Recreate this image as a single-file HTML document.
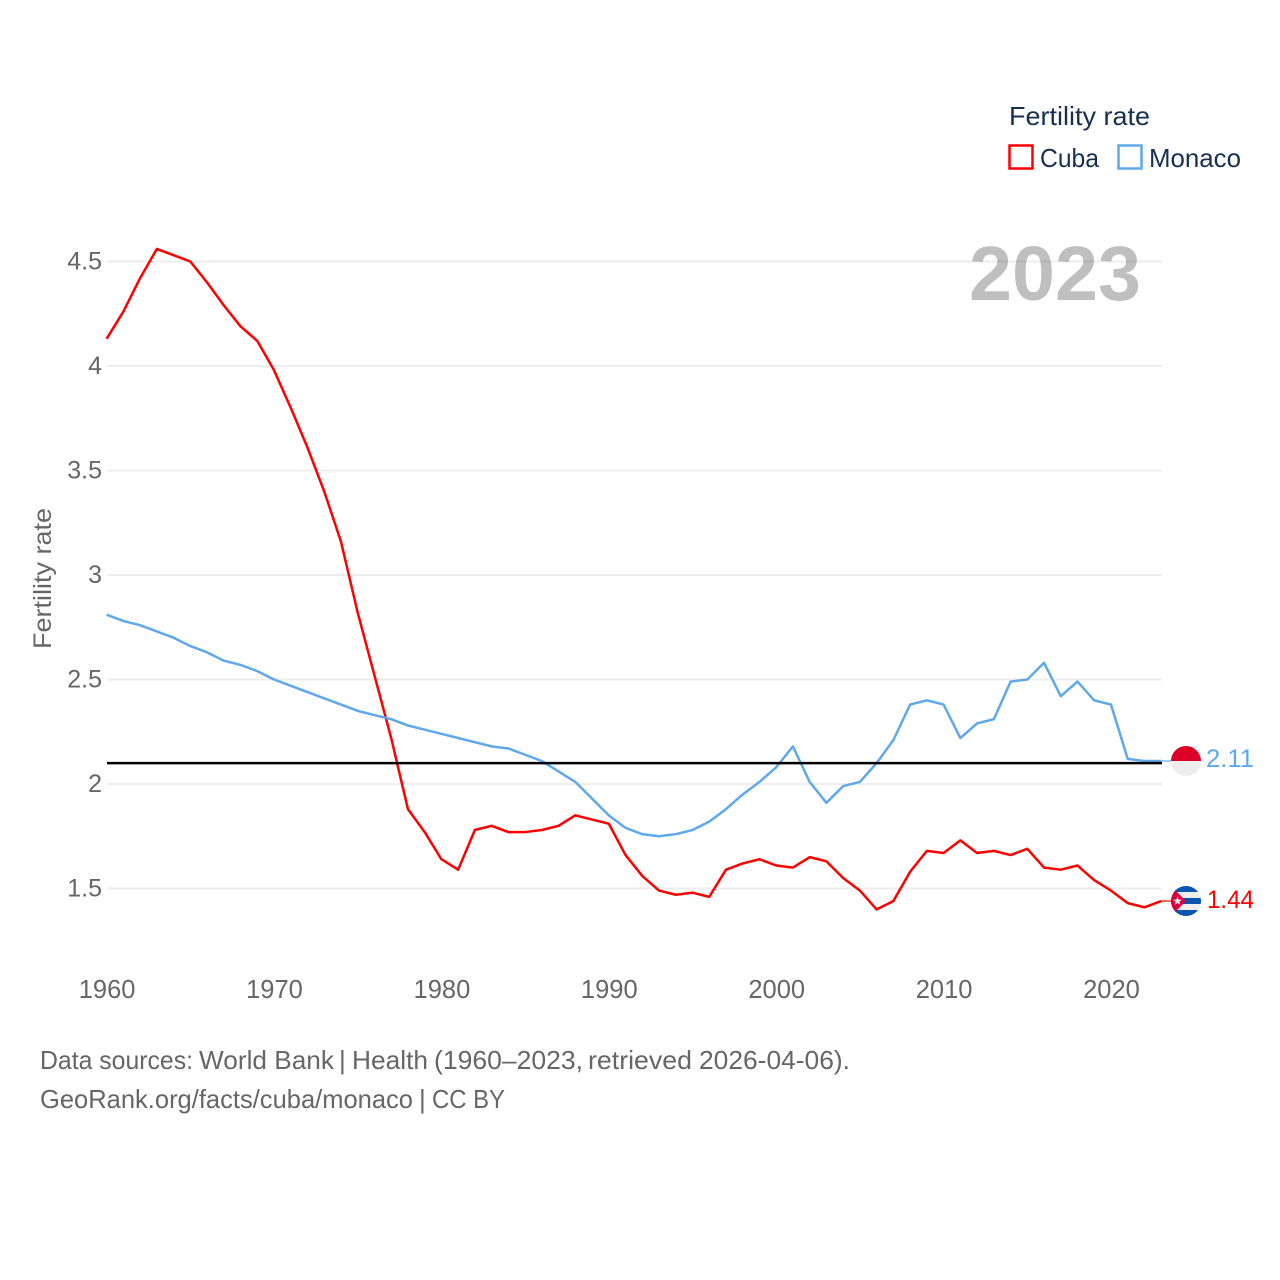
<!DOCTYPE html>
<html lang="en">
<head>
<meta charset="utf-8">
<title>Fertility rate: Cuba and Monaco</title>
<style>
html,body{margin:0;padding:0;background:#fff;width:1280px;height:1280px;overflow:hidden}
svg{display:block}
text{font-family:"Liberation Sans",sans-serif}
</style>
</head>
<body>
<svg id="chart" xmlns="http://www.w3.org/2000/svg" width="1280" height="1280" viewBox="0 0 1280 1280">
  <defs>
    <clipPath id="flag-clip-monaco"><circle cx="1186" cy="761" r="15"/></clipPath>
    <clipPath id="flag-clip-cuba"><circle cx="1186" cy="901" r="15"/></clipPath>
  </defs>
  <rect x="0" y="0" width="1280" height="1280" fill="#fff"/>
  <g id="grid"></g>
  <g id="yticks"></g>
  <g id="xticks"></g>
  <text transform="translate(51,649) rotate(-90)" font-size="25" fill="#666" textLength="141" lengthAdjust="spacingAndGlyphs">Fertility rate</text>
  <text x="969" y="300" font-size="77" font-weight="700" fill="#000" fill-opacity="0.25" textLength="172" lengthAdjust="spacingAndGlyphs">2023</text>
  <g id="series"></g>
  <g>
    <text x="1009" y="125" font-size="26" fill="#17304f" textLength="141" lengthAdjust="spacingAndGlyphs">Fertility rate</text>
    <rect x="1009.5" y="145.5" width="23" height="23" fill="#fff" stroke="#ff0000" stroke-width="2.5"/>
    <text x="1040" y="167" font-size="26" fill="#17304f" textLength="59" lengthAdjust="spacingAndGlyphs">Cuba</text>
    <rect x="1118.5" y="145.5" width="23" height="23" fill="#fff" stroke="#5fa8ec" stroke-width="2.5"/>
    <text x="1149" y="167" font-size="26" fill="#17304f" textLength="92" lengthAdjust="spacingAndGlyphs">Monaco</text>
  </g>
  <g clip-path="url(#flag-clip-monaco)">
    <rect x="1171" y="746" width="30" height="15" fill="#dc0027"/>
    <rect x="1171" y="761" width="30" height="15" fill="#eeeeee"/>
  </g>
  <g clip-path="url(#flag-clip-cuba)">
    <rect x="1171" y="886" width="30" height="30" fill="#eeeeee"/>
    <rect x="1171" y="886" width="30" height="6" fill="#0a55b0"/>
    <rect x="1171" y="898" width="30" height="6" fill="#0a55b0"/>
    <rect x="1171" y="910" width="30" height="6" fill="#0a55b0"/>
    <polygon points="1171,886 1186,901 1171,916" fill="#d8003a"/>
    <polygon points="1177.5,896.5 1178.6,899.6 1181.9,899.7 1179.3,901.7 1180.2,904.8 1177.5,903 1174.8,904.8 1175.7,901.7 1173.1,899.7 1176.4,899.6" fill="#eeeeee"/>
  </g>
  <g font-size="26" fill="#666">
    <text x="40" y="1069" textLength="153" lengthAdjust="spacingAndGlyphs">Data sources:</text>
    <text x="199" y="1069" textLength="135" lengthAdjust="spacingAndGlyphs">World Bank</text>
    <text x="339" y="1069">|</text>
    <text x="352" y="1069" textLength="76" lengthAdjust="spacingAndGlyphs">Health</text>
    <text x="434" y="1069" textLength="149" lengthAdjust="spacingAndGlyphs">(1960–2023,</text>
    <text x="588" y="1069" textLength="104" lengthAdjust="spacingAndGlyphs">retrieved</text>
    <text x="699" y="1069" textLength="151" lengthAdjust="spacingAndGlyphs">2026-04-06).</text>
  </g>
  <g font-size="26" fill="#666">
    <text x="40" y="1108" textLength="373" lengthAdjust="spacingAndGlyphs">GeoRank.org/facts/cuba/monaco</text>
    <text x="419" y="1108">|</text>
    <text x="432" y="1108" textLength="73" lengthAdjust="spacingAndGlyphs">CC BY</text>
  </g>
</svg>
<script>
const startYear = 1960;
const cubaValues = [4.13,4.26,4.42,4.56,4.53,4.50,4.40,4.29,4.19,4.12,3.98,3.80,3.61,3.40,3.16,2.82,2.52,2.22,1.88,1.77,1.64,1.59,1.78,1.80,1.77,1.77,1.78,1.80,1.85,1.83,1.81,1.66,1.56,1.49,1.47,1.48,1.46,1.59,1.62,1.64,1.61,1.60,1.65,1.63,1.55,1.49,1.40,1.44,1.58,1.68,1.67,1.73,1.67,1.68,1.66,1.69,1.60,1.59,1.61,1.54,1.49,1.43,1.41,1.44];
const monacoValues = [2.81,2.78,2.76,2.73,2.70,2.66,2.63,2.59,2.57,2.54,2.50,2.47,2.44,2.41,2.38,2.35,2.33,2.31,2.28,2.26,2.24,2.22,2.20,2.18,2.17,2.14,2.11,2.06,2.01,1.93,1.85,1.79,1.76,1.75,1.76,1.78,1.82,1.88,1.95,2.01,2.08,2.18,2.01,1.91,1.99,2.01,2.10,2.21,2.38,2.40,2.38,2.22,2.29,2.31,2.49,2.50,2.58,2.42,2.49,2.40,2.38,2.12,2.11,2.11];
const yTickValues = [1.5,2,2.5,3,3.5,4,4.5];
const yTickLabels = ["1.5","2","2.5","3","3.5","4","4.5"];
const xTickYears = [1960,1970,1980,1990,2000,2010,2020];
const replacementRate = 2.1;
const cubaEndLabel = "1.44";
const monacoEndLabel = "2.11";

const NS = 'http://www.w3.org/2000/svg';
const x = year => 106.6 + (year - 1960) * 16.74;
const y = value => 784 - (value - 2) * 209;
const svg = document.getElementById('chart');
const grid = document.getElementById('grid');
const yticks = document.getElementById('yticks');
const xticks = document.getElementById('xticks');
const series = document.getElementById('series');

function make(tag, attrs, parent) {
  const el = document.createElementNS(NS, tag);
  for (const k in attrs) el.setAttribute(k, attrs[k]);
  parent.appendChild(el);
  return el;
}

yTickValues.forEach((v, i) => {
  const line = make('line', {x1: 107, x2: 1162, y1: y(v), y2: y(v), stroke: '#eeeeee', 'stroke-width': 2}, grid);
  
  
  const t = make('text', {x: 102, y: y(v) + 8, 'text-anchor': 'end', 'font-size': 25, fill: '#666'}, yticks);
  t.textContent = yTickLabels[i];
  
  
});

xTickYears.forEach(year => {
  const t = make('text', {x: x(year) + 0.5, y: 998, 'text-anchor': 'middle', 'font-size': 25.5, fill: '#666'}, xticks);
  t.textContent = String(year);
  
  
});

const pathFor = values => values.map((v, i) => (i ? 'L' : 'M') + x(startYear + i).toFixed(2) + ' ' + y(v).toFixed(2)).join(' ');

const cubaLine = make('path', {d: pathFor(cubaValues), fill: 'none', stroke: '#ff0000', 'stroke-width': 2.5, 'stroke-linejoin': 'round'}, series);



const monacoLine = make('path', {d: pathFor(monacoValues), fill: 'none', stroke: '#5fa8ec', 'stroke-width': 2.5, 'stroke-linejoin': 'round'}, series);



const refLine = make('line', {x1: 107, x2: 1162, y1: y(replacementRate), y2: y(replacementRate), stroke: '#000', 'stroke-width': 2.5}, series);



const lastYear = startYear + cubaValues.length - 1;
const lastCuba = cubaValues[cubaValues.length - 1];
const lastMonaco = monacoValues[monacoValues.length - 1];

const cubaLeader = make('line', {x1: x(lastYear), x2: 1172, y1: y(lastCuba), y2: y(lastCuba), stroke: '#ff0000', 'stroke-width': 1.2}, series);



const monacoLeader = make('line', {x1: x(lastYear), x2: 1172, y1: y(lastMonaco), y2: y(lastMonaco), stroke: '#5fa8ec', 'stroke-width': 1.2}, series);



const monacoEnd = make('text', {x: 1206, y: y(lastMonaco) + 6, 'font-size': 25, fill: '#5fa8ec', textLength: 48, lengthAdjust: 'spacingAndGlyphs'}, svg);
monacoEnd.textContent = monacoEndLabel;



const cubaEnd = make('text', {x: 1207, y: y(lastCuba) + 7, 'font-size': 25, fill: '#ff0000', textLength: 47, lengthAdjust: 'spacingAndGlyphs'}, svg);
cubaEnd.textContent = cubaEndLabel;


</script>
</body>
</html>
